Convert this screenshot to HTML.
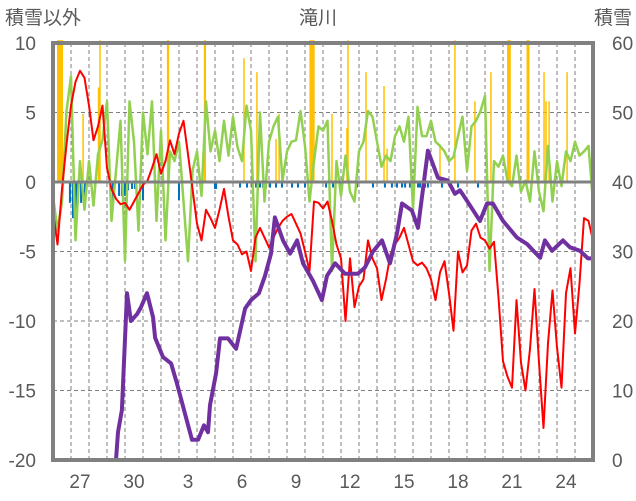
<!DOCTYPE html>
<html><head><meta charset="utf-8">
<style>
html,body{margin:0;padding:0;background:#fff;}
svg{display:block;font-family:"Liberation Sans","Noto Sans CJK JP",sans-serif;}
</style></head>
<body>
<svg id="chart" width="636" height="501" viewBox="0 0 636 501" xmlns="http://www.w3.org/2000/svg">
<rect x="0" y="0" width="636" height="501" fill="#fff"/>
<text x="5" y="24" font-size="19" fill="#595959">積雪以外</text>
<text x="318" y="24" font-size="19" fill="#595959" text-anchor="middle">滝川</text>
<text x="632" y="24" font-size="19" fill="#595959" text-anchor="end">積雪</text>
<g id="grid"></g>
<g id="bars"></g>
<g id="lines"></g>
<g id="axes"></g>
</svg>
<script>
const leftTicks=[10,5,0,-5,-10,-15,-20];
const rightTicks=[60,50,40,30,20,10,0];
const dayLabels=["27","30","3","6","9","12","15","18","21","24"];
const dayLabelOffsets=[1,4,7,10,13,16,19,22,25,28];
const red=[-2.1,-4.5,-0.5,2.7,5.5,7.2,8,7.5,5.5,3,4,5.5,1,-0.5,-1.2,-1.6,-1.5,-2,-1.4,-0.8,-0.2,0.1,1,2,0.6,1.5,3,2,3.5,4.4,2,-0.5,-3,-4.2,-2,-2.6,-3.3,-2,-0.5,-2.5,-4.2,-4.5,-5.2,-5,-6.4,-4,-3.3,-4,-4.7,-4,-3.3,-2.8,-2.5,-2.3,-3,-3.7,-5,-6.4,-1.4,-1.5,-1.9,-1.4,-2.8,-4.5,-5.5,-10,-5.5,-9,-7.5,-7,-4.2,-5.5,-6.2,-8.5,-7,-5.2,-4.5,-4,-3.3,-4.5,-5.7,-6,-5.8,-6.2,-7,-8.5,-6.5,-5.7,-8,-10.7,-5,-6.5,-6,-3.5,-3,-4,-4.2,-4.8,-4.3,-8.3,-12.9,-14,-14.8,-8.5,-13,-15,-12,-7.7,-13,-17.7,-11.6,-7.8,-11.9,-14.8,-8,-6.2,-10.9,-7.3,-2.6,-2.8,-4.2];
const green=[-1,-3.5,-1.4,5.1,7.6,-4.2,1.5,-2,1.5,-1.7,2,3,5.8,-2.8,0.8,4.4,-5.7,5.8,2.9,-3.5,5,2,5.8,-2.8,3.7,-4.2,2.2,1.5,2.9,-1.4,-5.7,0.8,2.2,-1,5.8,2.2,3.7,1.5,4.4,1.9,4.7,2.5,1.5,5.5,3.7,-5.7,5,-1.4,2.9,4,4.7,0.1,2.2,2.9,3,5.1,2.6,-1.4,1.5,4,3.7,4.4,-6.4,1.5,-1,1.9,-0.7,-1.4,2.2,2.9,5.1,4.7,2.9,1.1,1.9,1.5,3.3,4,2.9,4.7,-2,5.4,3.3,3.3,4.4,2.9,2.6,2.2,1.5,1.8,3.3,4.7,0.8,4,4.4,5.1,6.2,-6.4,1.5,1.1,1.9,0.1,-0.3,1.9,-0.7,0.1,-1.4,2.2,-0.7,-2.1,2.6,-1.4,1.5,-0.3,2.2,1.5,2.9,1.9,2.2,2.6,-1.4];
const snowDay=[0,3.5,3.61,3.83,4.11,4.33,4.67,4.89,5.22,5.56,5.67,6.11,6.56,6.89,7.33,7.72,8.06,8.39,8.61,8.72,9.06,9.28,9.72,10.17,10.67,11,11.44,11.78,12.11,12.33,12.78,13.17,13.56,13.89,14.44,14.94,15.22,15.67,16.22,16.94,17.33,17.78,18.28,18.72,19.11,19.39,19.94,20.28,20.83,21.39,21.94,22.33,22.61,23,23.72,24.11,24.44,25,25.78,26.33,27.06,27.33,27.72,28.33,28.72,29.28,29.72,30];
const snowDepth=[0,0,4,7.2,24,20,21,22,24,20.5,17.6,14.8,13.9,11,6.7,2.9,2.9,5,4,7.9,12.5,17.5,17.5,16,21.8,23,24,26.5,29.7,34.9,31.6,29.7,31.6,28.3,25.8,23,26.5,28.3,26.8,26.8,27.7,30,31.6,28.3,32.6,36.9,35.9,33.4,44.5,40.6,40.2,38.3,38.8,37.3,34.4,36.9,36.9,34.4,32,31.1,29.1,31.6,30.1,31.6,30.6,30.1,29,29];
const snowfallDay=[0.39,1.67,2.61,2.55,6.39,6.41,8.44,10.61,11.33,12.39,12.56,14.39,15.5,16.39,16.33,17.39,18.39,18.56,21.5,22.33,23.44,24.33,25.33,26.39,27.28,27.39,27.56,28.56];
const snowfallValue=[12,4.9,12,6.8,12,5.8,12,8.9,7.9,3.1,4.9,12,4.9,12,3.9,7.9,6.9,2.4,2.7,12,5.8,7.9,12,12,7.9,5.8,5.8,7.9];
const snowfallHours=[8,1,1,3,3,1,3,1,1,1,1,7,1,1,2,1,1,1,1,1,1,1,5,4,1,1,1,1];
const meltDay=[0.94,1.11,1.28,1.39,1.56,1.78,2.33,3.33,3.67,3.83,4,4.17,4.39,4.56,5,7,9,9.06,10.39,10.78,11.06,11.28,11.5,11.67,11.83,12.06,12.39,12.72,13.28,13.61,14,15.17,15.56,15.94,16.89,17.78,18.44,18.83,19.11,19.39,19.56,19.83,20.06,20.28,20.39,20.67,20.83,21.61,22.5,23.61,24.11];
const meltValue=[-1.5,-2.6,-2.6,-1.5,-1.5,-1,-0.5,-1.5,-1,-1,-1,-0.6,-0.5,-0.5,-1.3,-1.3,-0.5,-0.5,-0.4,-0.4,-0.4,-0.4,-0.4,-0.4,-0.4,-0.4,-0.4,-0.4,-0.4,-0.4,-0.4,-0.4,-0.4,-0.4,-0.4,-0.4,-0.4,-0.4,-0.4,-0.4,-0.4,-0.4,-0.4,-0.4,-0.4,-0.4,-0.4,-0.4,-0.4,-0.4,-0.4];

const X0=53,X1=593,Y0=43,Y1=460,DAYS=30;
const xDay=d=>X0+(X1-X0)*d/DAYS;
const yL=v=>Y1-(v+20)/30*(Y1-Y0);
const yR=v=>Y1-v/60*(Y1-Y0);
const NS="http://www.w3.org/2000/svg";
function mk(tag,parent,attrs){const e=document.createElementNS(NS,tag);for(const k in attrs)e.setAttribute(k,attrs[k]);parent.appendChild(e);return e;}
const grid=document.getElementById('grid'),bars=document.getElementById('bars'),lines=document.getElementById('lines'),axes=document.getElementById('axes');

for(let d=1;d<DAYS;d++){
  const l=mk('line',grid,{x1:xDay(d),x2:xDay(d),y1:Y0,y2:Y1,stroke:'#7f7f7f','stroke-width':1,'stroke-dasharray':'4,3'});
  
  
}
leftTicks.forEach(v=>{
  if(v===10||v===-20||v===0)return;
  const l=mk('line',grid,{x1:X0,x2:X1,y1:yL(v),y2:yL(v),stroke:'#7f7f7f','stroke-width':1,'stroke-dasharray':'4,3'});
  
  
});
const hr=(X1-X0)/DAYS/24;
snowfallDay.forEach((d,i)=>{
  const v=Math.min(snowfallValue[i],10.2);
  const w=Math.max(snowfallHours[i]*hr,1.5);
  const r=mk('rect',bars,{x:xDay(d)-w/2,y:yL(v),width:w,height:yL(0)-yL(v),fill:'#ffc000'});
  
  
});
meltDay.forEach((d,i)=>{
  const v=meltValue[i];
  const w=2;
  const r=mk('rect',bars,{x:xDay(d)-w/2,y:yL(0),width:w,height:yL(v)-yL(0),fill:'#0070c0'});
  
  
});
const zl=mk('line',axes,{x1:X0,x2:X1,y1:yL(0),y2:yL(0),stroke:'#808080','stroke-width':3});



function series(arr,color,w,name){
  const n=arr.length;
  const pts=arr.map((v,i)=>xDay(i*DAYS/(n-1)).toFixed(1)+','+yL(v).toFixed(1)).join(' ');
  const p=mk('polyline',lines,{points:pts,fill:'none',stroke:color,'stroke-width':w,'stroke-linejoin':'round'});
  
  
}
series(green,'#92d050',2.5,'green-series-line');
series(red,'#ff0000',2,'temperature-line');
const sp=snowDay.map((d,i)=>xDay(d).toFixed(1)+','+yR(snowDepth[i]).toFixed(1)).join(' ');
const sl=mk('polyline',lines,{points:sp,fill:'none',stroke:'#7030a0','stroke-width':4,'stroke-linejoin':'round'});



const fr=mk('rect',axes,{x:X0,y:Y0,width:X1-X0,height:Y1-Y0,fill:'none',stroke:'#808080','stroke-width':4});


leftTicks.forEach(v=>{
  const t=mk('text',axes,{x:36,y:yL(v)+7,'font-size':19,fill:'#595959','text-anchor':'end'});
  t.textContent=v;
  
  
});
rightTicks.forEach(v=>{
  const t=mk('text',axes,{x:612,y:yL(v/2-20)+7,'font-size':19,fill:'#595959'});
  t.textContent=v;
  
  
});
dayLabels.forEach((s,i)=>{
  const t=mk('text',axes,{x:xDay(dayLabelOffsets[i]+0.5),y:488,'font-size':19,fill:'#595959','text-anchor':'middle'});
  t.textContent=s;
  
  
});
</script>
</body></html>
